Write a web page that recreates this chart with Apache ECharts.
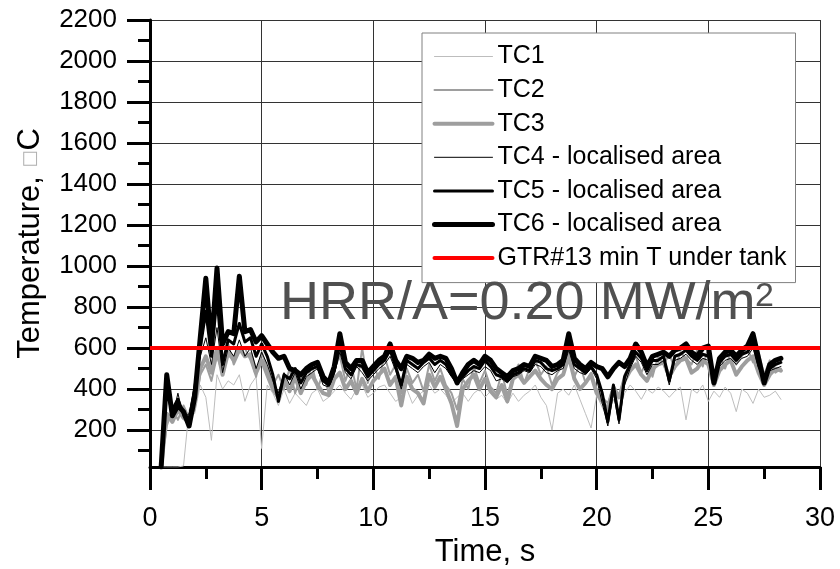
<!DOCTYPE html>
<html>
<head>
<meta charset="utf-8">
<script src="https://cdn.jsdelivr.net/npm/echarts@6/dist/echarts.min.js"></script>
<style>html,body{margin:0;padding:0;background:#fff;}#chart{width:840px;height:569px;}</style>
</head>
<body>
<div id="chart"></div>
<script>
// ---- data ----
const times = [0.5,0.75,1.0,1.25,1.5,1.75,2.0,2.25,2.5,2.75,3.0,3.25,3.5,3.75,4.0,4.25,4.5,4.75,5.0,5.25,5.5,5.75,6.0,6.25,6.5,6.75,7.0,7.25,7.5,7.75,8.0,8.25,8.5,8.75,9.0,9.25,9.5,9.75,10.0,10.25,10.5,10.75,11.0,11.25,11.5,11.75,12.0,12.25,12.5,12.75,13.0,13.25,13.5,13.75,14.0,14.25,14.5,14.75,15.0,15.25,15.5,15.75,16.0,16.25,16.5,16.75,17.0,17.25,17.5,17.75,18.0,18.25,18.5,18.75,19.0,19.25,19.5,19.75,20.0,20.25,20.5,20.75,21.0,21.25,21.5,21.75,22.0,22.25,22.5,22.75,23.0,23.25,23.5,23.75,24.0,24.25,24.5,24.75,25.0,25.25,25.5,25.75,26.0,26.25,26.5,26.75,27.0,27.25,27.5,27.75,28.0,28.25];

const tc1 = [20,20,20,20,25,300,280,420,360,150,470,400,440,420,470,340,420,460,110,420,380,320,400,330,380,350,320,380,400,340,360,390,420,380,350,400,420,360,380,410,420,380,340,360,400,330,370,390,420,380,400,370,330,360,380,340,380,400,360,390,350,370,330,380,340,370,390,420,360,320,200,380,400,370,420,350,280,210,370,310,260,350,300,380,420,390,350,400,380,410,390,360,390,410,250,400,380,420,340,390,360,410,380,290,400,380,330,400,360,370,390,350];

const tc2 = [20,220,300,250,320,260,300,470,520,440,560,480,620,520,580,600,540,460,580,500,
  420,470,400,500,380,470,420,520,400,480,
  380,500,560,440,520,400,600,430,520,450,
  560,470,520,380,500,430,470,390,520,440,
  500,420,380,300,450,400,510,430,490,410,
  380,480,370,460,520,430,500,540,470,510,
  420,480,520,580,460,520,430,480,400,360,
  330,420,370,470,520,560,480,540,460,560,
  520,570,500,580,550,520,590,510,600,450,
  560,500,580,520,560,600,530,580,470,540,
  480,500];

const tc3 = [20,280,240,300,260,240,330,500,560,480,600,470,580,540,600,560,570,480,540,470,
  400,360,450,390,460,380,440,470,420,380,
  370,450,480,400,440,380,450,390,440,470,
  500,420,460,320,460,400,380,330,470,410,
  460,400,330,220,400,440,470,400,450,390,
  360,420,340,450,470,430,460,490,450,420,
  400,450,470,560,450,400,430,470,380,340,
  300,400,360,440,490,520,470,440,500,520,
  530,460,510,540,550,480,500,540,520,420,
  490,520,540,470,510,540,560,480,420,470,
  500,490];

const tc4 = [30,380,260,380,260,280,420,560,650,520,700,480,600,560,640,560,600,500,580,520,440,380,480,420,480,400,460,480,500,420,410,470,580,480,450,510,480,440,470,500,520,560,490,400,520,500,480,510,530,480,520,500,460,420,450,470,490,480,510,490,440,450,430,460,470,490,480,520,510,480,470,490,500,590,500,480,470,500,450,330,220,380,230,420,500,560,530,470,520,520,540,420,540,550,570,540,520,550,540,460,510,540,550,520,550,560,600,500,460,490,500,510];

const tc5 = [25,420,300,350,280,250,400,600,780,560,850,520,640,620,720,630,650,560,620,560,470,340,470,450,500,430,480,500,510,440,420,490,620,500,470,520,510,460,490,520,540,590,510,420,540,520,500,530,550,520,540,520,470,440,460,490,510,500,540,510,470,460,440,470,480,500,490,540,530,500,490,500,520,620,520,500,480,510,470,380,240,420,250,460,520,580,550,490,540,540,560,440,560,570,590,560,540,570,560,470,530,560,570,540,570,580,630,520,450,500,520,530];

const tc6 = [20,470,270,320,290,220,360,650,940,610,990,620,680,670,950,680,690,630,660,620,580,550,560,500,490,470,500,520,530,460,430,510,670,530,500,540,540,480,510,540,560,620,540,500,560,550,530,540,570,550,560,550,500,430,480,520,540,520,560,540,500,480,460,490,500,520,510,560,550,540,510,520,540,670,550,520,500,530,510,500,460,500,530,510,550,620,580,510,560,570,580,560,590,600,620,580,560,600,610,430,550,580,590,560,590,610,670,550,430,520,540,550];

const gtrTimes = [0, 30];
const gtrValues = [600, 600];

const yTickValues = [200,400,600,800,1000,1200,1400,1600,1800,2000,2200];
const yMinorValues = [100,300,500,700,900,1100,1300,1500,1700,1900,2100];

const seriesNames = ['TC1','TC2','TC3','TC4 - localised area','TC5 - localised area','TC6 - localised area','GTR#13 min T under tank'];

function pairs(xs, ys) { return xs.map((x, i) => [x, ys[i]]); }

const FONT = 'Liberation Sans, Arial, sans-serif';
const chart = echarts.init(document.getElementById('chart'), null, {renderer: 'canvas'});

const lineDefs = [
  {data: tc1, color: '#bdbdbd', width: 1},
  {data: tc2, color: '#9e9e9e', width: 2},
  {data: tc3, color: '#9e9e9e', width: 4},
  {data: tc4, color: '#000000', width: 1},
  {data: tc5, color: '#000000', width: 3},
  {data: tc6, color: '#000000', width: 5}
];

const series = lineDefs.map((d, i) => ({
  name: seriesNames[i],
  type: 'line',
  xAxisIndex: 0, yAxisIndex: 0,
  symbol: 'none',
  smooth: false,
  animation: false,
  data: pairs(times, d.data),
  lineStyle: {color: d.color, width: d.width, cap: 'round', join: 'round'},
  itemStyle: {color: d.color}
}));
series.push({
  name: seriesNames[6],
  type: 'line',
  xAxisIndex: 0, yAxisIndex: 0,
  symbol: 'none',
  animation: false,
  data: pairs(gtrTimes, gtrValues),
  lineStyle: {color: '#ff0000', width: 4},
  itemStyle: {color: '#ff0000'}
});

chart.setOption({
  backgroundColor: '#ffffff',
  animation: false,
  textStyle: {fontFamily: FONT},
  grid: {left: 150, right: 20, top: 20, bottom: 102, containLabel: false, outerBoundsMode: 'none'},
  legend: {
    orient: 'vertical',
    left: 422, top: 33,
    padding: [11, 9, 12, 10],
    itemWidth: 58, itemHeight: 24, itemGap: 8.6, itemTextGap: 10,
    borderColor: '#808080', borderWidth: 1,
    backgroundColor: '#ffffff',
    textStyle: {fontSize: 25, lineHeight: 25, color: '#000', fontFamily: FONT},
    lineStyle: {width: 'inherit', cap: 'round'},
    itemStyle: {opacity: 0},
    data: seriesNames
  },
  xAxis: {
    type: 'value', min: 0, max: 30, interval: 5,
    name: 'Time, s', nameLocation: 'middle', nameGap: 66,
    nameTextStyle: {fontSize: 31, color: '#000', fontFamily: FONT},
    axisLine: {show: true, onZero: false, lineStyle: {color: '#000', width: 3}},
    axisTick: {show: true, length: 23, lineStyle: {color: '#000', width: 3}},
    minorTick: {show: true, splitNumber: 2, length: 12, lineStyle: {color: '#000', width: 3}},
    axisLabel: {fontSize: 27, color: '#000', margin: 38, fontFamily: FONT},
    splitLine: {show: true, lineStyle: {color: '#333333', width: 1}}
  },
  yAxis: [{
    type: 'value', min: 20, max: 2200, position: 'left',
    name: '{t|Temperature, }{b|\u25A1}{t|C}', nameLocation: 'middle', nameGap: 104,
    nameTextStyle: {rich: {t: {fontSize: 31, color: '#000', fontFamily: FONT}, b: {fontSize: 18, color: '#b0b0b0', fontFamily: 'DejaVu Sans'}}},
    axisLine: {show: true, lineStyle: {color: '#000', width: 3}},
    axisTick: {show: true, length: 23, customValues: yTickValues, lineStyle: {color: '#000', width: 3}},
    axisLabel: {fontSize: 26, color: '#000', margin: 33, customValues: yTickValues, fontFamily: FONT,
      formatter: v => String(v)},
    splitLine: {show: true, lineStyle: {color: '#333333', width: 1}}
  }, {
    type: 'value', min: 20, max: 2200, position: 'left', offset: 0,
    axisLine: {show: false},
    axisTick: {show: true, length: 12, customValues: yMinorValues, lineStyle: {color: '#000', width: 3}},
    axisLabel: {show: false, customValues: yMinorValues},
    splitLine: {show: false}
  }],
  graphic: [{
    type: 'text', left: 280, top: 277, z: 100,
    style: {text: 'HRR/A=0.20 MW/m', fontSize: 54, fill: '#505050', fontFamily: FONT}
  }, {
    type: 'text', left: 755, top: 280, z: 100,
    style: {text: '2', fontSize: 34, fill: '#505050', fontFamily: FONT}
  }],
  series: series
});
</script>
</body>
</html>
